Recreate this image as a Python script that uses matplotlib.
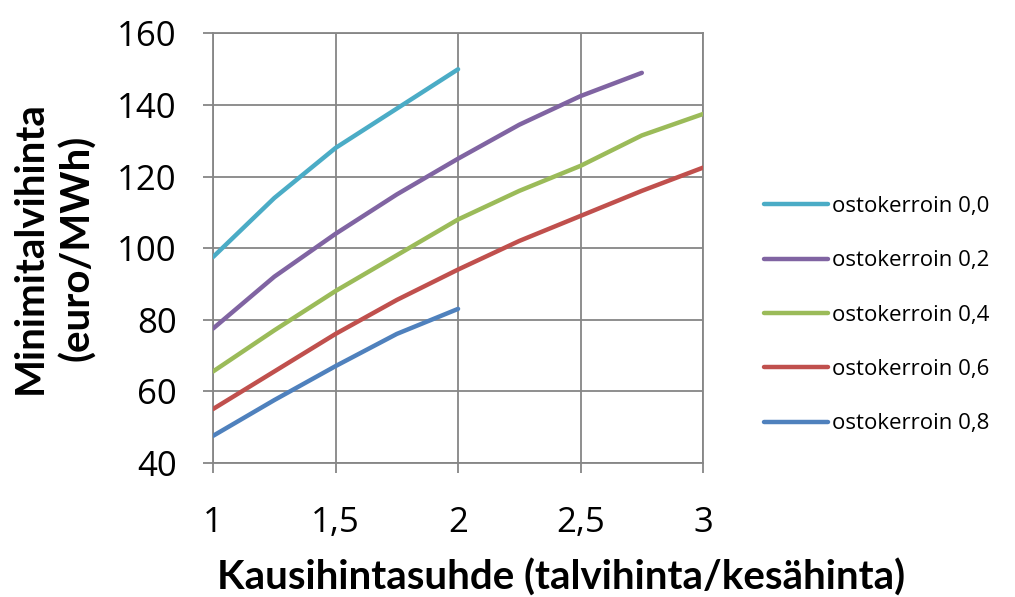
import matplotlib
matplotlib.use("Agg")
import matplotlib.pyplot as plt

# price ratio (winter/summer) on the x axis
ratio = [1, 1.25, 1.5, 1.75, 2, 2.25, 2.5, 2.75, 3]

# minimum winter price (euro/MWh) per purchase coefficient
kerroin_00 = [97.5, 114, 128, 139, 150]
kerroin_02 = [77.5, 92, 104, 115, 125, 134.5, 142.5, 149]
kerroin_04 = [65.5, 77, 88, 98, 108, 116, 123, 131.5, 137.5]
kerroin_06 = [55, 65.5, 76, 85.5, 94, 102, 109, 116, 122.5]
kerroin_08 = [47.5, 57.5, 67, 76, 83]

labels = ["ostokerroin 0,0", "ostokerroin 0,2", "ostokerroin 0,4",
          "ostokerroin 0,6", "ostokerroin 0,8"]
colors = ["#4BACC6", "#8064A2", "#9BBB59", "#C0504D", "#4F81BD"]
series = [kerroin_00, kerroin_02, kerroin_04, kerroin_06, kerroin_08]

x_ticks = [1, 1.5, 2, 2.5, 3]
x_ticklabels = ["1", "1,5", "2", "2,5", "3"]
y_ticks = [40, 60, 80, 100, 120, 140, 160]

plt.rcParams["font.family"] = ["Open Sans", "DejaVu Sans"]

fig = plt.figure(figsize=(10.15, 5.97), dpi=100)
ax = fig.add_axes([0.2099, 0.225, 0.4828, 0.7189])

for vals, lab, col in zip(series, labels, colors):
    ax.plot(ratio[:len(vals)], vals, color=col, lw=3.2, label=lab,
            solid_capstyle="round", solid_joinstyle="round", zorder=3)

grid_col = "#868686"
ax.set_xlim(1, 3)
ax.set_ylim(40, 160)
ax.set_xticks(x_ticks)
ax.set_xticklabels(x_ticklabels)
ax.set_yticks(y_ticks)
ax.grid(True, color=grid_col, lw=1.3, zorder=0)
for side in ["left", "bottom", "top", "right"]:
    ax.spines[side].set_color(grid_col)
    ax.spines[side].set_linewidth(1.3)
ax.tick_params(axis="both", direction="out", color=grid_col, width=1.3,
               length=7, labelsize=25)
ax.tick_params(axis="y", pad=19)
ax.tick_params(axis="x", pad=24)

label_font = ["Lato", "DejaVu Sans"]
fig.text(0.553, 0.032, "Kausihintasuhde (talvihinta/kesähinta)",
         ha="center", va="center", fontsize=29, fontweight="bold",
         family=label_font)
fig.text(0.053, 0.585, "Minimitalvihinta\n(euro/MWh)", rotation=90,
         ha="center", va="center", fontsize=29, fontweight="bold",
         linespacing=1.3, family=label_font)

fig.legend(loc="center left", bbox_to_anchor=(0.733, 0.472), frameon=False,
           fontsize=16, handlelength=2.9, handletextpad=0.15,
           labelspacing=1.5)

fig.savefig("out.png", dpi=100)
